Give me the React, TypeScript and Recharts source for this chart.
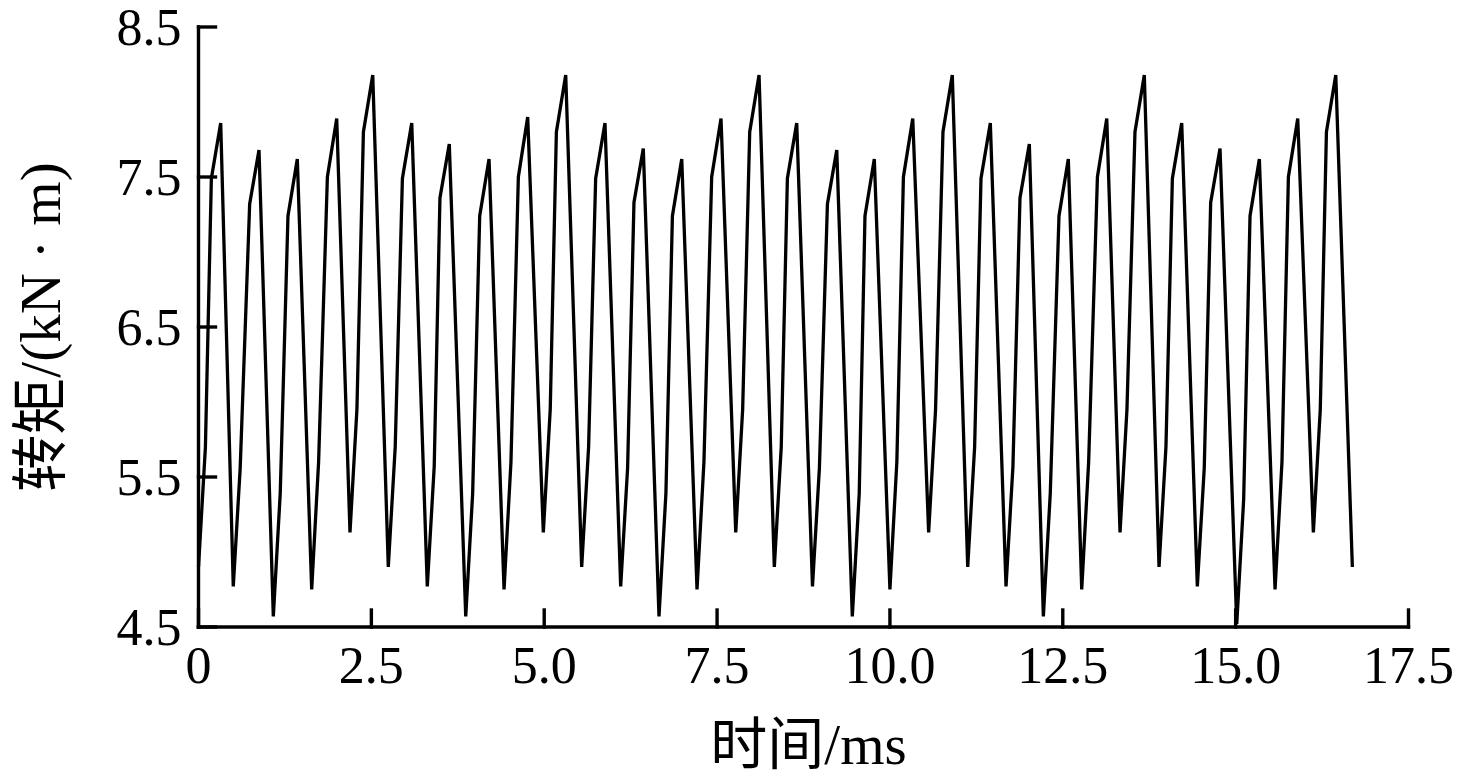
import React from "react";
import { LineChart, Line, XAxis, YAxis, Label } from "recharts";

// torque ripple over one 16.67 ms period, vertices
const timeMs = [
  0.0, 0.1, 0.186, 0.321, 0.503, 0.603, 0.74, 0.875, 1.082, 1.182, 1.294, 1.429,
  1.637, 1.737, 1.864, 1.999, 2.191, 2.291, 2.385, 2.52,
  2.745, 2.845, 2.949, 3.084, 3.309, 3.409, 3.492, 3.627, 3.865, 3.965, 4.067, 4.202,
  4.419, 4.519, 4.626, 4.761, 4.987, 5.087, 5.176, 5.311,
  5.542, 5.642, 5.744, 5.879, 6.106, 6.206, 6.298, 6.433, 6.66, 6.76, 6.854, 6.989,
  7.21, 7.31, 7.422, 7.557, 7.77, 7.87, 7.972, 8.107,
  8.328, 8.428, 8.517, 8.652, 8.88, 8.98, 9.096, 9.231, 9.456, 9.556, 9.639, 9.774,
  10.0, 10.1, 10.195, 10.33, 10.56, 10.66, 10.767, 10.902,
  11.125, 11.225, 11.317, 11.452, 11.679, 11.779, 11.881, 12.016, 12.219, 12.319, 12.445, 12.58,
  12.774, 12.874, 13.001, 13.136, 13.328, 13.428, 13.544, 13.679,
  13.892, 13.992, 14.085, 14.22, 14.446, 14.546, 14.639, 14.774, 15.016, 15.116, 15.208, 15.343,
  15.57, 15.67, 15.763, 15.898, 16.124, 16.224, 16.313, 16.448,
  16.688,
];

const torque = [
  4.9, 5.7, 7.49, 7.86, 4.77, 5.56, 7.32, 7.68, 4.57, 5.39, 7.24, 7.62,
  4.75, 5.6, 7.5, 7.89, 5.13, 5.95, 7.8, 8.18,
  4.9, 5.7, 7.49, 7.86, 4.77, 5.57, 7.36, 7.72, 4.57, 5.39, 7.24, 7.62,
  4.75, 5.6, 7.5, 7.9, 5.13, 5.95, 7.8, 8.18,
  4.9, 5.7, 7.49, 7.86, 4.77, 5.56, 7.33, 7.69, 4.57, 5.39, 7.24, 7.62,
  4.75, 5.6, 7.5, 7.89, 5.13, 5.95, 7.8, 8.18,
  4.9, 5.7, 7.49, 7.86, 4.77, 5.56, 7.32, 7.68, 4.57, 5.39, 7.24, 7.62,
  4.75, 5.6, 7.5, 7.89, 5.13, 5.95, 7.8, 8.18,
  4.9, 5.7, 7.49, 7.86, 4.77, 5.57, 7.36, 7.72, 4.57, 5.39, 7.24, 7.62,
  4.75, 5.6, 7.5, 7.89, 5.13, 5.95, 7.8, 8.18,
  4.9, 5.7, 7.49, 7.86, 4.77, 5.56, 7.33, 7.69, 4.52, 5.35, 7.24, 7.62,
  4.75, 5.6, 7.5, 7.89, 5.13, 5.95, 7.8, 8.18,
  4.9,
];

const xTicks = [0, 2.5, 5.0, 7.5, 10.0, 12.5, 15.0, 17.5];
const yTicks = [4.5, 5.5, 6.5, 7.5, 8.5];

const FONT = '"Liberation Serif", "Times New Roman", "Noto Sans CJK SC", serif';

const data = timeMs.map((t, i) => ({ t, torque: torque[i] }));

const axisStroke = { stroke: "#000", strokeWidth: 3.4, strokeLinecap: "square" as const };
const tickStyle = { fontFamily: FONT, fontSize: 52, fill: "#000" };

export default function App() {
  return (
    <div style={{ position: "fixed", left: 0, top: 0, background: "#fff" }}>
      <LineChart
        width={1462}
        height={782}
        data={data}
        margin={{ top: 27, right: 53.5, bottom: 0, left: 0 }}
      >
        <XAxis
          dataKey="t"
          type="number"
          domain={[0, 17.5]}
          ticks={xTicks}
          tickFormatter={(v: number) => (v === 0 ? "0" : v.toFixed(1))}
          height={155}
          axisLine={axisStroke}
          tickLine={axisStroke}
          tickSize={-17}
          tickMargin={36}
          tick={tickStyle}
          interval={0}
        >
          <Label
            content={(props: any) => {
              const vb = props.viewBox || {};
              const cx = vb.x + vb.width / 2 + 5;
              return (
                <text
                  x={cx}
                  y={744}
                  textAnchor="middle"
                  dominantBaseline="central"
                  fontFamily={FONT}
                  fontSize={57}
                  fill="#000"
                >
                  时间/ms
                </text>
              );
            }}
          />
        </XAxis>
        <YAxis
          type="number"
          domain={[4.5, 8.5]}
          ticks={yTicks}
          tickFormatter={(v: number) => v.toFixed(1)}
          width={198.5}
          axisLine={axisStroke}
          tickLine={axisStroke}
          tickSize={-17}
          tickMargin={34}
          tick={tickStyle}
          interval={0}
        >
          <Label
            content={(props: any) => {
              const vb = props.viewBox || {};
              const cy = vb.y + vb.height / 2;
              return (
                <text
                  x={40}
                  y={cy}
                  transform={`rotate(-90 40 ${cy})`}
                  textAnchor="middle"
                  dominantBaseline="central"
                  fontFamily={FONT}
                  fontSize={57}
                  fill="#000"
                >
                  转矩/(kN · m)
                </text>
              );
            }}
          />
        </YAxis>
        <Line
          type="linear"
          dataKey="torque"
          stroke="#000"
          strokeWidth={3.3}
          dot={false}
          isAnimationActive={false}
        />
      </LineChart>
    </div>
  );
}
